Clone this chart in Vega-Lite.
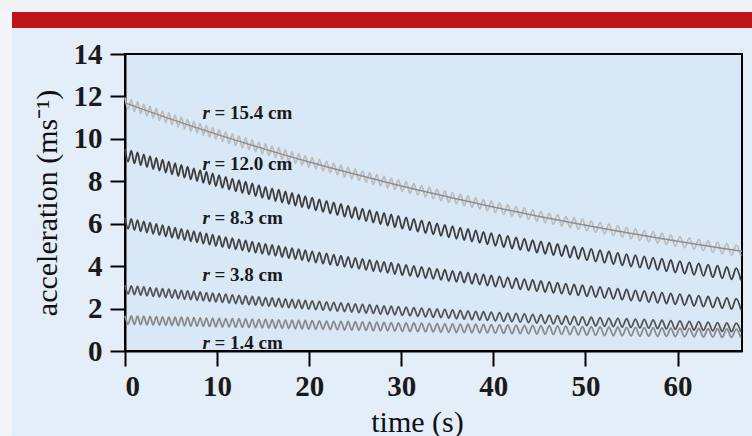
{
"$schema":"https://vega.github.io/schema/vega-lite/v6.json",
"autosize":"none",
"width":617,"height":297,
"padding":{"left":125,"top":54,"right":10,"bottom":85},
"background":"#e3eef9",
"config":{
"view":{"stroke":"black","strokeWidth":2,"fill":"#d9e8f7"},
"axis":{"domainColor":"black","domainWidth":2,"tickColor":"black","tickWidth":2,"tickSize":15,"labelFont":"Liberation Serif","labelFontSize":29,"labelFontWeight":"bold","labelColor":"#1a1a1a","titleFont":"Liberation Serif","titleFontSize":30,"titleFontWeight":"normal","titleColor":"#111111","grid":false}
},
"datasets":{
"osc":[
{"t":0,"a":11.95,"b":9.53,"c":6.29,"d":3.10,"e":1.66},
{"t":0.34,"a":11.40,"b":8.93,"c":5.76,"d":2.69,"e":1.26},
{"t":0.68,"a":11.85,"b":9.44,"c":6.23,"d":3.07,"e":1.65},
{"t":1.02,"a":11.29,"b":8.84,"c":5.70,"d":2.66,"e":1.25},
{"t":1.36,"a":11.74,"b":9.36,"c":6.17,"d":3.05,"e":1.64},
{"t":1.70,"a":11.19,"b":8.76,"c":5.64,"d":2.63,"e":1.24},
{"t":2.04,"a":11.64,"b":9.27,"c":6.11,"d":3.02,"e":1.64},
{"t":2.38,"a":11.08,"b":8.67,"c":5.58,"d":2.60,"e":1.23},
{"t":2.72,"a":11.53,"b":9.19,"c":6.05,"d":2.99,"e":1.63},
{"t":3.06,"a":10.98,"b":8.58,"c":5.52,"d":2.58,"e":1.22},
{"t":3.40,"a":11.43,"b":9.10,"c":5.99,"d":2.96,"e":1.62},
{"t":3.74,"a":10.87,"b":8.50,"c":5.46,"d":2.55,"e":1.22},
{"t":4.08,"a":11.32,"b":9.02,"c":5.93,"d":2.94,"e":1.61},
{"t":4.42,"a":10.77,"b":8.41,"c":5.40,"d":2.52,"e":1.21},
{"t":4.76,"a":11.22,"b":8.93,"c":5.87,"d":2.91,"e":1.60},
{"t":5.10,"a":10.67,"b":8.33,"c":5.34,"d":2.50,"e":1.20},
{"t":5.44,"a":11.12,"b":8.85,"c":5.81,"d":2.88,"e":1.59},
{"t":5.78,"a":10.57,"b":8.25,"c":5.29,"d":2.47,"e":1.19},
{"t":6.12,"a":11.02,"b":8.77,"c":5.76,"d":2.86,"e":1.59},
{"t":6.46,"a":10.47,"b":8.17,"c":5.23,"d":2.44,"e":1.18},
{"t":6.80,"a":10.92,"b":8.69,"c":5.70,"d":2.83,"e":1.58},
{"t":7.14,"a":10.37,"b":8.09,"c":5.17,"d":2.42,"e":1.17},
{"t":7.48,"a":10.82,"b":8.61,"c":5.65,"d":2.81,"e":1.57},
{"t":7.82,"a":10.27,"b":8.01,"c":5.12,"d":2.39,"e":1.17},
{"t":8.16,"a":10.73,"b":8.53,"c":5.59,"d":2.78,"e":1.56},
{"t":8.50,"a":10.18,"b":7.93,"c":5.06,"d":2.37,"e":1.16},
{"t":8.84,"a":10.63,"b":8.45,"c":5.54,"d":2.75,"e":1.55},
{"t":9.18,"a":10.08,"b":7.85,"c":5.01,"d":2.34,"e":1.15},
{"t":9.52,"a":10.53,"b":8.37,"c":5.48,"d":2.73,"e":1.55},
{"t":9.86,"a":9.98,"b":7.77,"c":4.95,"d":2.32,"e":1.14},
{"t":10.22,"a":10.43,"b":8.29,"c":5.42,"d":2.70,"e":1.54},
{"t":10.58,"a":9.88,"b":7.69,"c":4.90,"d":2.29,"e":1.13},
{"t":10.94,"a":10.33,"b":8.21,"c":5.37,"d":2.68,"e":1.53},
{"t":11.30,"a":9.79,"b":7.61,"c":4.84,"d":2.26,"e":1.13},
{"t":11.66,"a":10.24,"b":8.13,"c":5.32,"d":2.65,"e":1.52},
{"t":12.02,"a":9.69,"b":7.53,"c":4.79,"d":2.24,"e":1.12},
{"t":12.38,"a":10.14,"b":8.05,"c":5.26,"d":2.62,"e":1.52},
{"t":12.74,"a":9.59,"b":7.45,"c":4.74,"d":2.21,"e":1.11},
{"t":13.10,"a":10.05,"b":7.98,"c":5.21,"d":2.60,"e":1.51},
{"t":13.46,"a":9.50,"b":7.38,"c":4.68,"d":2.19,"e":1.11},
{"t":13.82,"a":9.95,"b":7.90,"c":5.16,"d":2.57,"e":1.50},
{"t":14.18,"a":9.40,"b":7.30,"c":4.63,"d":2.16,"e":1.10},
{"t":14.54,"a":9.85,"b":7.82,"c":5.10,"d":2.55,"e":1.49},
{"t":14.90,"a":9.30,"b":7.22,"c":4.58,"d":2.13,"e":1.09},
{"t":15.26,"a":9.76,"b":7.74,"c":5.05,"d":2.52,"e":1.49},
{"t":15.62,"a":9.21,"b":7.15,"c":4.53,"d":2.11,"e":1.08},
{"t":15.98,"a":9.67,"b":7.67,"c":5.00,"d":2.50,"e":1.48},
{"t":16.34,"a":9.12,"b":7.07,"c":4.48,"d":2.09,"e":1.07},
{"t":16.70,"a":9.58,"b":7.60,"c":4.95,"d":2.48,"e":1.47},
{"t":17.06,"a":9.03,"b":7.00,"c":4.43,"d":2.06,"e":1.07},
{"t":17.42,"a":9.49,"b":7.52,"c":4.90,"d":2.45,"e":1.46},
{"t":17.78,"a":8.94,"b":6.93,"c":4.38,"d":2.04,"e":1.06},
{"t":18.14,"a":9.39,"b":7.45,"c":4.85,"d":2.43,"e":1.45},
{"t":18.50,"a":8.85,"b":6.85,"c":4.33,"d":2.02,"e":1.05},
{"t":18.86,"a":9.30,"b":7.38,"c":4.80,"d":2.41,"e":1.44},
{"t":19.22,"a":8.76,"b":6.78,"c":4.28,"d":2.00,"e":1.04},
{"t":19.58,"a":9.21,"b":7.30,"c":4.75,"d":2.38,"e":1.44},
{"t":19.94,"a":8.67,"b":6.71,"c":4.22,"d":1.97,"e":1.03},
{"t":20.33,"a":9.12,"b":7.23,"c":4.70,"d":2.36,"e":1.43},
{"t":20.72,"a":8.58,"b":6.63,"c":4.17,"d":1.95,"e":1.02},
{"t":21.11,"a":9.03,"b":7.15,"c":4.65,"d":2.34,"e":1.42},
{"t":21.50,"a":8.49,"b":6.56,"c":4.12,"d":1.93,"e":1.02},
{"t":21.89,"a":8.94,"b":7.08,"c":4.60,"d":2.31,"e":1.41},
{"t":22.28,"a":8.40,"b":6.48,"c":4.07,"d":1.90,"e":1.01},
{"t":22.67,"a":8.85,"b":7.00,"c":4.54,"d":2.29,"e":1.40},
{"t":23.06,"a":8.31,"b":6.41,"c":4.02,"d":1.88,"e":1.00},
{"t":23.45,"a":8.76,"b":6.93,"c":4.49,"d":2.27,"e":1.40},
{"t":23.84,"a":8.21,"b":6.33,"c":3.97,"d":1.86,"e":0.99},
{"t":24.23,"a":8.67,"b":6.85,"c":4.44,"d":2.24,"e":1.39},
{"t":24.62,"a":8.12,"b":6.26,"c":3.92,"d":1.83,"e":0.98},
{"t":25.01,"a":8.58,"b":6.78,"c":4.39,"d":2.22,"e":1.38},
{"t":25.40,"a":8.04,"b":6.19,"c":3.87,"d":1.81,"e":0.98},
{"t":25.79,"a":8.49,"b":6.71,"c":4.34,"d":2.20,"e":1.37},
{"t":26.18,"a":7.95,"b":6.12,"c":3.82,"d":1.79,"e":0.97},
{"t":26.57,"a":8.41,"b":6.64,"c":4.30,"d":2.18,"e":1.36},
{"t":26.96,"a":7.86,"b":6.05,"c":3.77,"d":1.77,"e":0.96},
{"t":27.35,"a":8.32,"b":6.57,"c":4.25,"d":2.15,"e":1.36},
{"t":27.74,"a":7.78,"b":5.98,"c":3.73,"d":1.74,"e":0.95},
{"t":28.13,"a":8.24,"b":6.51,"c":4.20,"d":2.13,"e":1.35},
{"t":28.52,"a":7.69,"b":5.91,"c":3.68,"d":1.72,"e":0.95},
{"t":28.91,"a":8.15,"b":6.44,"c":4.16,"d":2.11,"e":1.34},
{"t":29.30,"a":7.61,"b":5.84,"c":3.63,"d":1.70,"e":0.94},
{"t":29.69,"a":8.06,"b":6.37,"c":4.11,"d":2.09,"e":1.33},
{"t":30.11,"a":7.52,"b":5.77,"c":3.58,"d":1.68,"e":0.93},
{"t":30.53,"a":7.98,"b":6.30,"c":4.06,"d":2.07,"e":1.32},
{"t":30.95,"a":7.43,"b":5.70,"c":3.54,"d":1.66,"e":0.92},
{"t":31.37,"a":7.89,"b":6.23,"c":4.01,"d":2.04,"e":1.32},
{"t":31.79,"a":7.35,"b":5.63,"c":3.49,"d":1.63,"e":0.91},
{"t":32.21,"a":7.80,"b":6.16,"c":3.97,"d":2.02,"e":1.31},
{"t":32.63,"a":7.26,"b":5.56,"c":3.44,"d":1.61,"e":0.90},
{"t":33.05,"a":7.72,"b":6.09,"c":3.92,"d":2.00,"e":1.30},
{"t":33.47,"a":7.18,"b":5.50,"c":3.40,"d":1.59,"e":0.90},
{"t":33.89,"a":7.63,"b":6.02,"c":3.87,"d":1.98,"e":1.29},
{"t":34.31,"a":7.09,"b":5.43,"c":3.35,"d":1.57,"e":0.89},
{"t":34.73,"a":7.55,"b":5.95,"c":3.83,"d":1.96,"e":1.28},
{"t":35.15,"a":7.01,"b":5.36,"c":3.30,"d":1.55,"e":0.88},
{"t":35.57,"a":7.47,"b":5.89,"c":3.78,"d":1.94,"e":1.28},
{"t":35.99,"a":6.93,"b":5.29,"c":3.26,"d":1.52,"e":0.87},
{"t":36.41,"a":7.39,"b":5.82,"c":3.74,"d":1.91,"e":1.27},
{"t":36.83,"a":6.85,"b":5.23,"c":3.22,"d":1.50,"e":0.87},
{"t":37.25,"a":7.31,"b":5.75,"c":3.69,"d":1.89,"e":1.26},
{"t":37.67,"a":6.77,"b":5.16,"c":3.17,"d":1.48,"e":0.86},
{"t":38.09,"a":7.23,"b":5.69,"c":3.65,"d":1.87,"e":1.26},
{"t":38.51,"a":6.69,"b":5.10,"c":3.13,"d":1.46,"e":0.85},
{"t":38.93,"a":7.15,"b":5.62,"c":3.61,"d":1.85,"e":1.25},
{"t":39.35,"a":6.61,"b":5.03,"c":3.08,"d":1.44,"e":0.85},
{"t":39.77,"a":7.07,"b":5.56,"c":3.56,"d":1.83,"e":1.24},
{"t":40.22,"a":6.52,"b":4.96,"c":3.04,"d":1.42,"e":0.84},
{"t":40.67,"a":6.98,"b":5.49,"c":3.52,"d":1.81,"e":1.23},
{"t":41.12,"a":6.44,"b":4.90,"c":3.00,"d":1.40,"e":0.83},
{"t":41.57,"a":6.90,"b":5.43,"c":3.47,"d":1.79,"e":1.23},
{"t":42.02,"a":6.36,"b":4.83,"c":2.95,"d":1.38,"e":0.82},
{"t":42.47,"a":6.82,"b":5.36,"c":3.43,"d":1.77,"e":1.22},
{"t":42.92,"a":6.28,"b":4.77,"c":2.91,"d":1.36,"e":0.82},
{"t":43.37,"a":6.74,"b":5.30,"c":3.39,"d":1.75,"e":1.21},
{"t":43.82,"a":6.20,"b":4.71,"c":2.87,"d":1.34,"e":0.81},
{"t":44.27,"a":6.66,"b":5.23,"c":3.35,"d":1.73,"e":1.21},
{"t":44.72,"a":6.12,"b":4.64,"c":2.82,"d":1.32,"e":0.80},
{"t":45.17,"a":6.58,"b":5.17,"c":3.30,"d":1.71,"e":1.20},
{"t":45.62,"a":6.04,"b":4.58,"c":2.78,"d":1.30,"e":0.79},
{"t":46.07,"a":6.50,"b":5.11,"c":3.26,"d":1.69,"e":1.19},
{"t":46.52,"a":5.97,"b":4.52,"c":2.74,"d":1.28,"e":0.78},
{"t":46.97,"a":6.43,"b":5.05,"c":3.22,"d":1.67,"e":1.18},
{"t":47.42,"a":5.89,"b":4.46,"c":2.70,"d":1.26,"e":0.78},
{"t":47.87,"a":6.35,"b":4.99,"c":3.18,"d":1.65,"e":1.17},
{"t":48.32,"a":5.82,"b":4.40,"c":2.66,"d":1.24,"e":0.77},
{"t":48.77,"a":6.28,"b":4.93,"c":3.14,"d":1.63,"e":1.16},
{"t":49.22,"a":5.74,"b":4.34,"c":2.62,"d":1.22,"e":0.76},
{"t":49.67,"a":6.21,"b":4.87,"c":3.10,"d":1.61,"e":1.15},
{"t":50.15,"a":5.67,"b":4.28,"c":2.58,"d":1.20,"e":0.75},
{"t":50.63,"a":6.13,"b":4.81,"c":3.06,"d":1.59,"e":1.15},
{"t":51.11,"a":5.59,"b":4.22,"c":2.54,"d":1.18,"e":0.74},
{"t":51.59,"a":6.06,"b":4.75,"c":3.02,"d":1.57,"e":1.14},
{"t":52.07,"a":5.52,"b":4.16,"c":2.50,"d":1.16,"e":0.73},
{"t":52.55,"a":5.98,"b":4.69,"c":2.98,"d":1.55,"e":1.13},
{"t":53.03,"a":5.44,"b":4.10,"c":2.46,"d":1.15,"e":0.73},
{"t":53.51,"a":5.91,"b":4.63,"c":2.94,"d":1.54,"e":1.12},
{"t":53.99,"a":5.37,"b":4.04,"c":2.42,"d":1.13,"e":0.72},
{"t":54.47,"a":5.83,"b":4.57,"c":2.90,"d":1.52,"e":1.11},
{"t":54.95,"a":5.29,"b":3.98,"c":2.38,"d":1.11,"e":0.71},
{"t":55.43,"a":5.76,"b":4.52,"c":2.86,"d":1.50,"e":1.11},
{"t":55.91,"a":5.22,"b":3.93,"c":2.35,"d":1.09,"e":0.70},
{"t":56.39,"a":5.69,"b":4.46,"c":2.83,"d":1.49,"e":1.10},
{"t":56.87,"a":5.15,"b":3.87,"c":2.31,"d":1.08,"e":0.70},
{"t":57.35,"a":5.62,"b":4.40,"c":2.79,"d":1.47,"e":1.10},
{"t":57.83,"a":5.08,"b":3.82,"c":2.27,"d":1.06,"e":0.69},
{"t":58.31,"a":5.55,"b":4.35,"c":2.75,"d":1.45,"e":1.09},
{"t":58.79,"a":5.01,"b":3.76,"c":2.24,"d":1.04,"e":0.69},
{"t":59.27,"a":5.47,"b":4.29,"c":2.72,"d":1.43,"e":1.08},
{"t":59.75,"a":4.94,"b":3.70,"c":2.20,"d":1.02,"e":0.68},
{"t":60.26,"a":5.40,"b":4.24,"c":2.68,"d":1.42,"e":1.08},
{"t":60.77,"a":4.87,"b":3.65,"c":2.16,"d":1.01,"e":0.67},
{"t":61.28,"a":5.33,"b":4.18,"c":2.64,"d":1.40,"e":1.07},
{"t":61.79,"a":4.80,"b":3.59,"c":2.13,"d":0.99,"e":0.67},
{"t":62.30,"a":5.26,"b":4.13,"c":2.61,"d":1.38,"e":1.06},
{"t":62.81,"a":4.73,"b":3.54,"c":2.09,"d":0.97,"e":0.66},
{"t":63.32,"a":5.19,"b":4.07,"c":2.57,"d":1.36,"e":1.05},
{"t":63.83,"a":4.66,"b":3.48,"c":2.05,"d":0.95,"e":0.65},
{"t":64.34,"a":5.13,"b":4.02,"c":2.53,"d":1.34,"e":1.05},
{"t":64.85,"a":4.59,"b":3.43,"c":2.02,"d":0.93,"e":0.64},
{"t":65.35,"a":5.06,"b":3.96,"c":2.50,"d":1.33,"e":1.04},
{"t":65.86,"a":4.52,"b":3.38,"c":1.98,"d":0.92,"e":0.64},
{"t":66.37,"a":4.99,"b":3.91,"c":2.47,"d":1.31,"e":1.03},
{"t":66.88,"a":4.46,"b":3.33,"c":1.95,"d":0.90,"e":0.63}
],
"trend":[
{"t":0,"v":11.70},{"t":5,"v":10.93},{"t":10,"v":10.21},{"t":15,"v":9.54},{"t":20,"v":8.91},
{"t":25,"v":8.33},{"t":30,"v":7.78},{"t":35,"v":7.27},{"t":40,"v":6.79},{"t":45,"v":6.34},
{"t":50,"v":5.93},{"t":55,"v":5.54},{"t":60,"v":5.17},{"t":65,"v":4.83},{"t":67,"v":4.70}
],
"labels":[
{"t":8.42,"v":11.2,"txt":"= 15.4 cm"},
{"t":8.42,"v":8.8,"txt":"= 12.0 cm"},
{"t":8.42,"v":6.27,"txt":"= 8.3 cm"},
{"t":8.42,"v":3.58,"txt":"= 3.8 cm"},
{"t":8.42,"v":0.38,"txt":"= 1.4 cm"}
]
},
"layer":[
{"data":{"values":[{}]},"mark":{"type":"rect","color":"#f1f3f5"},
 "encoding":{"x":{"datum":-13.6,"type":"quantitative","scale":{"domain":[0,67],"nice":false,"zero":false}},"x2":{"datum":68.1},"y":{"datum":16.6,"type":"quantitative","scale":{"domain":[0,14],"nice":false}},"y2":{"datum":15.98}}},
{"data":{"values":[{}]},"mark":{"type":"rect","color":"#f3f6f9"},
 "encoding":{"x":{"datum":-13.6,"type":"quantitative"},"x2":{"datum":-12.27},"y":{"datum":15.98,"type":"quantitative"},"y2":{"datum":-4.0}}},
{"data":{"values":[{}]},"mark":{"type":"rect","color":"#c0141c"},
 "encoding":{"x":{"datum":-12.27,"type":"quantitative"},"x2":{"datum":68.1},"y":{"datum":15.98,"type":"quantitative"},"y2":{"datum":15.23}}},
{"data":{"name":"osc"},
 "transform":[{"fold":["a","b","c","d","e"],"as":["s","v"]}],
 "mark":{"type":"line","strokeWidth":1.8,"interpolate":"monotone"},
 "encoding":{
  "x":{"field":"t","type":"quantitative","scale":{"domain":[0,67],"nice":false,"zero":false},
   "axis":{"values":[0,10,20,30,40,50,60],"title":"time (s)","labelPadding":6,"titleX":292,"titleY":80,"titleBaseline":"alphabetic","titleAlign":"center"}},
  "y":{"field":"v","type":"quantitative","scale":{"domain":[0,14],"nice":false},
   "axis":{"values":[0,2,4,6,8,10,12,14],"title":"acceleration (ms⁻¹)","labelPadding":8,"titleX":-78,"titleY":148.5,"titleAngle":270,"titleBaseline":"middle","titleAlign":"center"}},
  "color":{"field":"s","type":"nominal","legend":null,
   "scale":{"domain":["a","b","c","d","e"],"range":["#bdbdbd","#3d3d3d","#444444","#555555","#8a8a8a"]}}
 }},
{"data":{"name":"trend"},
 "mark":{"type":"line","color":"#8e8e8e","strokeWidth":1.5,"interpolate":"monotone"},
 "encoding":{"x":{"field":"t","type":"quantitative"},"y":{"field":"v","type":"quantitative"}}},
{"data":{"name":"labels"},
 "mark":{"type":"text","text":"r","font":"Liberation Serif","fontSize":19,"fontStyle":"italic","fontWeight":"bold","align":"left","baseline":"middle","color":"#1a1a1a"},
 "encoding":{"x":{"field":"t","type":"quantitative"},"y":{"field":"v","type":"quantitative"}}},
{"data":{"name":"labels"},
 "mark":{"type":"text","font":"Liberation Serif","fontSize":19,"fontWeight":"bold","align":"left","baseline":"middle","dx":12,"color":"#1a1a1a"},
 "encoding":{"x":{"field":"t","type":"quantitative"},"y":{"field":"v","type":"quantitative"},"text":{"field":"txt"}}}
]
}
